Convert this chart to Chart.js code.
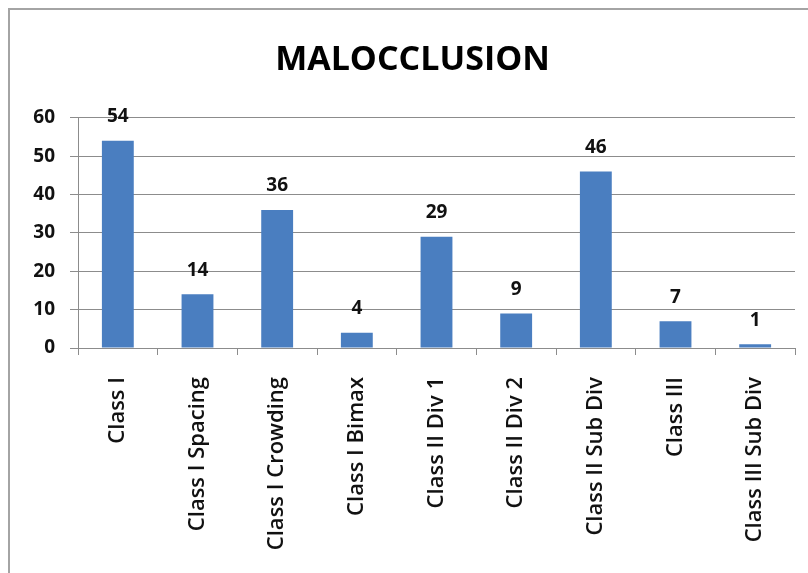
<!DOCTYPE html>
<html>
<head>
<meta charset="utf-8">
<script src="https://cdn.jsdelivr.net/npm/chart.js@4"></script>
<style>
  html, body { margin: 0; padding: 0; background: #fff; overflow: hidden; }
  #wrap { position: relative; width: 808px; height: 573px; }
  #frame { position: absolute; left: 8px; top: 8px; width: 900px; height: 700px; border: 2px solid #a4a4a4; box-sizing: border-box; }
  canvas { position: absolute; left: 0; top: 0; }
</style>
</head>
<body>
<div id="wrap">
  <div id="frame"></div>
  <canvas id="chart" width="808" height="573"></canvas>
</div>
<script>
// chart data
const categories = ["Class I", "Class I Spacing", "Class I Crowding", "Class I Bimax", "Class II Div 1",
    "Class II Div 2", "Class II Sub Div", "Class III", "Class III Sub Div"];
const counts = [54, 14, 36, 4, 29, 9, 46, 7, 1];
const yTicks = [0, 10, 20, 30, 40, 50, 60];

const textFont = '"Open Sans", "Liberation Sans", sans-serif';

// value labels above the bars
const valueLabels = {
    id: "valueLabels",
    afterDatasetsDraw(chart) {
        const ctx = chart.ctx;
        const meta = chart.getDatasetMeta(0);
        ctx.save();
        ctx.font = "bold 19px " + textFont;
        ctx.fillStyle = "#111";
        ctx.textAlign = "center";
        ctx.textBaseline = "middle";
        meta.data.forEach((bar, i) => {
            ctx.fillText(String(counts[i]), bar.x, bar.y - 24);
        });
        ctx.restore();
    },
};

new Chart(document.getElementById("chart"), {
    type: "bar",
    data: {
        labels: categories,
        datasets: [{
            label: "Malocclusion",
            data: counts,
            backgroundColor: "#4a7ec0",
            barPercentage: 0.4,
            categoryPercentage: 1,
        }],
    },
    options: {
        responsive: false,
        animation: false,
        layout: { padding: { left: 30, right: 13, top: 0, bottom: 0 } },
        plugins: {
            legend: { display: false },
            tooltip: { enabled: false },
            title: {
                display: true,
                text: "MALOCCLUSION",
                color: "#000",
                font: { family: textFont, size: 34, weight: "bold", lineHeight: 1.2 },
                padding: { top: 40, bottom: 37 },
            },
        },
        scales: {
            y: {
                min: yTicks[0],
                max: yTicks[yTicks.length - 1],
                afterBuildTicks: (scale) => { scale.ticks = yTicks.map((v) => ({ value: v })); },
                afterFit: (scale) => { scale.width = 48; },
                ticks: { color: "#111", padding: 15, font: { family: textFont, size: 19, weight: "bold" } },
                grid: { color: "#8c8c8c", tickLength: 8 },
                border: { color: "#8c8c8c" },
            },
            x: {
                afterFit: (scale) => { scale.height = 225; },
                ticks: {
                    color: "#111",
                    minRotation: 90,
                    maxRotation: 90,
                    autoSkip: false,
                    padding: 22,
                    font: { family: textFont, size: 22, weight: "600" },
                },
                grid: { drawOnChartArea: false, color: "#8c8c8c", tickLength: 7, offset: true },
                border: { color: "#8c8c8c" },
            },
        },
    },
    plugins: [valueLabels],
});
</script>
</body>
</html>
